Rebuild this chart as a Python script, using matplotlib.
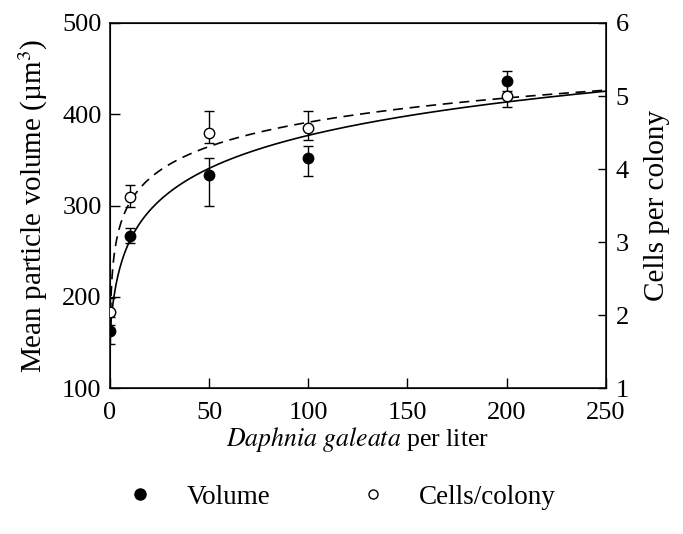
import matplotlib.pyplot as plt
import numpy as np
from matplotlib.lines import Line2D

plt.rcParams['font.family'] = ['Liberation Serif', 'DejaVu Serif']
plt.rcParams['mathtext.fontset'] = 'stix'

# data
density = [0, 10, 50, 100, 200]

volume = [163, 267, 333, 352, 436]
volume_lo = [15, 8, 33, 20, 11]
volume_hi = [15, 9, 19, 13, 11]

cells = [2.05, 3.62, 4.50, 4.56, 5.00]
cells_lo = [0.19, 0.14, 0.14, 0.16, 0.15]
cells_hi = [0.19, 0.16, 0.30, 0.24, 0.0]

# fitted curves: y = a + b*ln((x + c) / 100)
vol_fit = (376.0, 53.4, 1.72)
cell_fit = (4.64, 0.48, 0.17)

fig = plt.figure(figsize=(6.83, 5.34), dpi=100)
ax = fig.add_axes([0.161, 0.273, 0.726, 0.684])
ax2 = ax.twinx()

xs = np.linspace(0, 250, 500)
a, b, c = vol_fit
ax.plot(xs, a + b * np.log((xs + c) / 100.0), color='black', lw=1.2)
a, b, c = cell_fit
ax2.plot(xs, a + b * np.log((xs + c) / 100.0), color='black', lw=1.2,
         dashes=(6, 4))

ax.errorbar(density, volume, yerr=[volume_lo, volume_hi], fmt='o',
            color='black', ms=7.5, capsize=3.5, elinewidth=1, capthick=1,
            zorder=5)
ax2.errorbar(density, cells, yerr=[cells_lo, cells_hi], fmt='o',
             color='black', mfc='white', ms=7.5, capsize=3.5, elinewidth=1,
             capthick=1, zorder=5)

ax.set_xlim(0, 250)
ax.set_ylim(100, 500)
ax2.set_ylim(1, 6)
ax.set_xticks([0, 50, 100, 150, 200, 250])
ax.set_yticks([100, 200, 300, 400, 500])
ax2.set_yticks([1, 2, 3, 4, 5, 6])

ax.tick_params(axis='both', direction='in', length=7, width=1,
               labelsize=19, pad=6)
ax2.tick_params(axis='y', direction='in', length=6, width=1,
                labelsize=19, pad=7)
ax.tick_params(axis='x', pad=10)
for sp in ax.spines.values():
    sp.set_linewidth(1.1)

ax.set_ylabel('Mean particle volume (µm$^3$)', fontsize=21, labelpad=9)
ax2.set_ylabel('Cells per colony', fontsize=21, labelpad=11)
ax.set_xlabel('$\\it{Daphnia\\ galeata}$ per liter', fontsize=18.5,
              labelpad=1)

handles = [Line2D([], [], ls='none', marker='o', color='black', ms=8),
           Line2D([], [], ls='none', marker='o', color='black', mfc='white',
                  ms=6.5)]
fig.legend(handles, ['Volume', 'Cells/colony'], loc='center',
           bbox_to_anchor=(0.5, 0.069), ncol=2, frameon=False, fontsize=19.5,
           handlelength=1, handletextpad=1.2, columnspacing=3.3,
           borderpad=0)

fig.savefig('out.png', dpi=100)
